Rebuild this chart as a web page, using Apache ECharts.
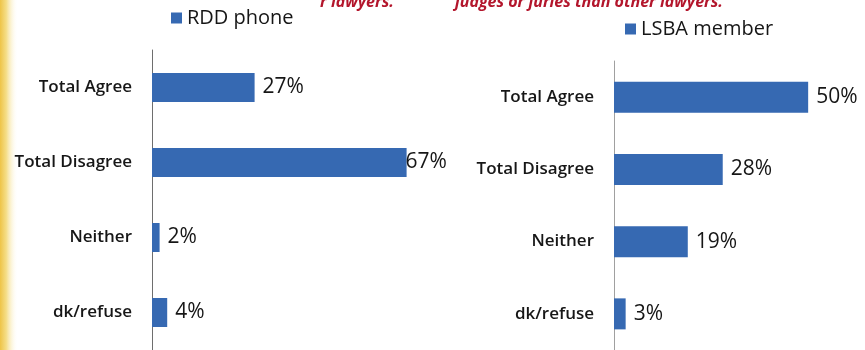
<!DOCTYPE html>
<html>
<head>
<meta charset="utf-8">
<script src="https://cdn.jsdelivr.net/npm/echarts@6/dist/echarts.min.js"></script>
<style>
  html, body { margin: 0; padding: 0; background: #ffffff; }
  #chart { width: 865px; height: 350px; }
</style>
</head>
<body>
<div id="chart"></div>
<script>
// Survey responses, percent of respondents
const categories = ['Total Agree', 'Total Disagree', 'Neither', 'dk/refuse'];
const rddPhone = [27, 67, 2, 4];
const lsbaMember = [50, 28, 19, 3];
const seriesNames = ['RDD phone', 'LSBA member'];

const barColor = '#3669b2';
const textColor = '#161616';
const font = "'Open Sans', sans-serif";

const chart = echarts.init(document.getElementById('chart'));

function catAxis(gridIndex, lineColor) {
  return {
    type: 'category',
    gridIndex: gridIndex,
    data: categories,
    inverse: true,
    axisLine: { show: true, lineStyle: { color: lineColor, width: 1 } },
    axisTick: { show: false },
    axisLabel: {
      margin: 20,
      color: textColor,
      fontFamily: font,
      fontSize: 17,
      fontWeight: 600
    }
  };
}

function valAxis(gridIndex, max) {
  return {
    type: 'value',
    gridIndex: gridIndex,
    min: 0,
    max: max,
    show: false,
    splitLine: { show: false }
  };
}

function barLabel() {
  return {
    show: true,
    position: 'right',
    distance: 8,
    color: textColor,
    fontFamily: font,
    fontSize: 21,
    formatter: p => p.value + '%'
  };
}

// The widest left bar's label sits right against the bar end
const rddData = rddPhone.map((v, i) =>
  i === 1 ? { value: v, label: { distance: -1 } } : v
);

chart.setOption({
  animation: false,
  backgroundColor: '#ffffff',
  graphic: [
    {
      type: 'rect',
      left: 0, top: 0, z: 0,
      shape: { width: 18, height: 350 },
      style: {
        fill: new echarts.graphic.LinearGradient(0, 0, 1, 0, [
          { offset: 0, color: '#eec447' },
          { offset: 0.35, color: '#f5de88' },
          { offset: 1, color: 'rgba(255,255,255,0)' }
        ])
      }
    },
    {
      type: 'text', z: 5,
      style: {
        x: 320, y: 10,
        text: 'r lawyers.',
        verticalAlign: 'bottom',
        fill: '#b3162c',
        font: "italic bold 16px 'Open Sans', sans-serif"
      }
    },
    {
      type: 'text', z: 5,
      style: {
        x: 455, y: 10,
        text: 'judges or juries than other lawyers.',
        verticalAlign: 'bottom',
        fill: '#b3162c',
        font: "italic bold 16px 'Open Sans', sans-serif"
      }
    }
  ],
  legend: [
    {
      data: [seriesNames[0]],
      left: 166, top: 3,
      icon: 'rect', itemWidth: 11, itemHeight: 11, itemGap: 7,
      textStyle: { color: textColor, fontFamily: font, fontSize: 20 }
    },
    {
      data: [seriesNames[1]],
      left: 620, top: 14,
      icon: 'rect', itemWidth: 11, itemHeight: 11, itemGap: 7,
      textStyle: { color: textColor, fontFamily: font, fontSize: 20 }
    }
  ],
  grid: [
    { left: 152, top: 50, width: 304, height: 306 },
    { left: 614, top: 61, width: 233, height: 306 }
  ],
  xAxis: [valAxis(0, 80), valAxis(1, 60)],
  yAxis: [catAxis(0, '#6e6e6e'), catAxis(1, '#a0a0a0')],
  series: [
    {
      name: seriesNames[0],
      type: 'bar',
      xAxisIndex: 0, yAxisIndex: 0,
      barWidth: 29,
      itemStyle: { color: barColor },
      label: barLabel(),
      data: rddData
    },
    {
      name: seriesNames[1],
      type: 'bar',
      xAxisIndex: 1, yAxisIndex: 1,
      barWidth: 31,
      itemStyle: { color: barColor },
      label: barLabel(),
      data: lsbaMember
    }
  ]
});
</script>
</body>
</html>
